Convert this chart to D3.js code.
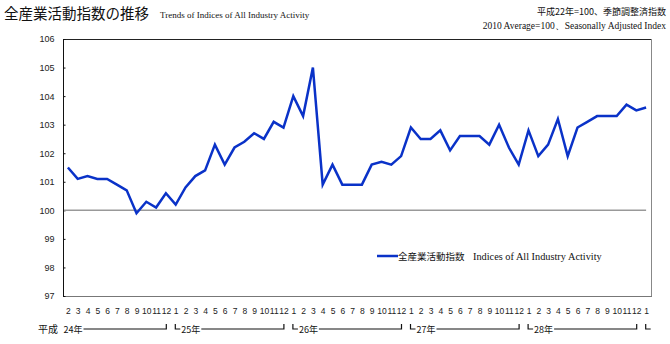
<!DOCTYPE html>
<html><head><meta charset="utf-8">
<script src="https://cdn.jsdelivr.net/npm/d3@7"></script>
<style>body{margin:0;background:#fff}svg{display:block}</style>
</head><body>
<svg id="c" width="670" height="344"></svg>
<script>
const months = ["2","3","4","5","6","7","8","9","10","11","12",
 "1","2","3","4","5","6","7","8","9","10","11","12",
 "1","2","3","4","5","6","7","8","9","10","11","12",
 "1","2","3","4","5","6","7","8","9","10","11","12",
 "1","2","3","4","5","6","7","8","9","10","11","12",
 "1"];
const values = [101.5,101.1,101.2,101.1,101.1,100.9,100.7,99.9,100.3,100.1,100.6,
 100.2,100.8,101.2,101.4,102.3,101.6,102.2,102.4,102.7,102.5,103.1,102.9,
 104.0,103.3,105.0,100.9,101.6,100.9,100.9,100.9,101.6,101.7,101.6,101.9,
 102.9,102.5,102.5,102.8,102.1,102.6,102.6,102.6,102.3,103.0,102.2,101.6,
 102.8,101.9,102.3,103.2,101.9,102.9,103.1,103.3,103.3,103.3,103.7,103.5,
 103.6];
const yearLabels = ["24年","25年","26年","27年","28年",""];
const yearStarts = [0,11,23,35,47,59];
const yearEnds = [10,22,34,46,58,59];
const yTicks = [97,98,99,100,101,102,103,104,105,106];

const svg = d3.select("#c");
const L=63,R=651,T=39,B=296;
const x = d3.scalePoint().domain(d3.range(values.length)).range([L,R]).padding(0.5);
const step = x.step();
const y = d3.scaleLinear().domain([97,106]).range([B,T]);
const jp = "'Noto Sans CJK JP', sans-serif";
const serif = "'Liberation Serif', 'DejaVu Serif', serif";
const sans = "'Liberation Sans', Arial, sans-serif";

// titles
svg.append("text").attr("x",4).attr("y",19).attr("font-family",jp).attr("font-size",14.5).attr("fill","#111").text("全産業活動指数の推移");
svg.append("text").attr("x",160).attr("y",18).attr("font-family",serif).attr("font-size",9).attr("fill","#111").text("Trends of Indices of All Industry Activity");
svg.append("text").attr("x",666).attr("y",15).attr("text-anchor","end").attr("font-family",jp).attr("font-size",9).attr("fill","#111").text("平成22年=100、季節調整済指数");
svg.append("text").attr("x",666).attr("y",29).attr("text-anchor","end").attr("font-family",serif).attr("font-size",9.5).attr("fill","#111").text("2010 Average=100、Seasonally Adjusted Index");

// frame
svg.append("line").attr("x1",L).attr("x2",R).attr("y1",T+0.5).attr("y2",T+0.5).attr("stroke","#222");
svg.append("line").attr("x1",R+0.5).attr("x2",R+0.5).attr("y1",T).attr("y2",B).attr("stroke","#888");
svg.append("line").attr("x1",L).attr("x2",R+1).attr("y1",B+0.5).attr("y2",B+0.5).attr("stroke","#777");
svg.append("line").attr("x1",L+0.5).attr("x2",L+0.5).attr("y1",T).attr("y2",B+1).attr("stroke","#111");

// y axis ticks
const ya = svg.append("g").attr("transform",`translate(${L+0.5},0)`).call(d3.axisLeft(y).tickValues(yTicks).tickSize(-2).tickPadding(9));
ya.select(".domain").remove();
ya.selectAll("line").attr("stroke","#111");
ya.selectAll("text").attr("font-family",sans).attr("font-size",9).attr("fill","#222");

// reference line at 100
svg.append("line").attr("x1",L+1).attr("x2",x(values.length-1)).attr("y1",y(100)).attr("y2",y(100)).attr("stroke","#999").attr("stroke-width",1.5);

// data line
svg.append("path").datum(values).attr("fill","none").attr("stroke","#0a32c8").attr("stroke-width",2.5).attr("stroke-linejoin","miter")
  .attr("d",d3.line().x((d,i)=>x(i)).y(d=>y(d)));

// x month labels
const xa = svg.append("g").attr("transform",`translate(0,${B})`).call(d3.axisBottom(x).tickFormat(i=>months[i]).tickSize(0).tickPadding(12));
xa.select(".domain").remove();
xa.selectAll("text").attr("font-family",sans).attr("font-size",8.5).attr("fill","#222");

// year brackets
const yb = 329;
svg.append("text").attr("x",38).attr("y",yb+4).attr("font-family",jp).attr("font-size",10).attr("fill","#111").text("平成");
yearLabels.forEach((lab,k)=>{
  const left = x(yearStarts[k]) - step/2;
  const right = x(yearEnds[k]) + step/2;
  const g = svg.append("g");
  let sx = left + 4.5;
  if (k>0) {
    g.append("path").attr("d",`M${sx},${yb-5}V${yb}H${sx+5}`).attr("fill","none").attr("stroke","#111").attr("stroke-width",1.2);
    sx += 6;
  } else {
    sx = left + 0.5;
  }
  if (lab) {
    const t = g.append("text").attr("x",sx).attr("y",yb+4).attr("font-family",jp).attr("font-size",9).attr("fill","#111").text(lab);
    const w = t.node().getComputedTextLength();
    const ex = right - 4.5;
    g.append("path").attr("d",`M${sx+w+1},${yb}H${ex}V${yb-5}`).attr("fill","none").attr("stroke","#111").attr("stroke-width",1.2);
  }
});

// legend
const lgY = 256;
svg.append("line").attr("x1",377).attr("x2",398).attr("y1",lgY).attr("y2",lgY).attr("stroke","#0a32c8").attr("stroke-width",2.5);
svg.append("text").attr("x",398).attr("y",lgY+3.5).attr("font-family",jp).attr("font-size",9.5).attr("fill","#111").text("全産業活動指数");
svg.append("text").attr("x",473).attr("y",lgY+3.5).attr("font-family",serif).attr("font-size",10.3).attr("fill","#111").text("Indices of All Industry Activity");
</script>
</body></html>
